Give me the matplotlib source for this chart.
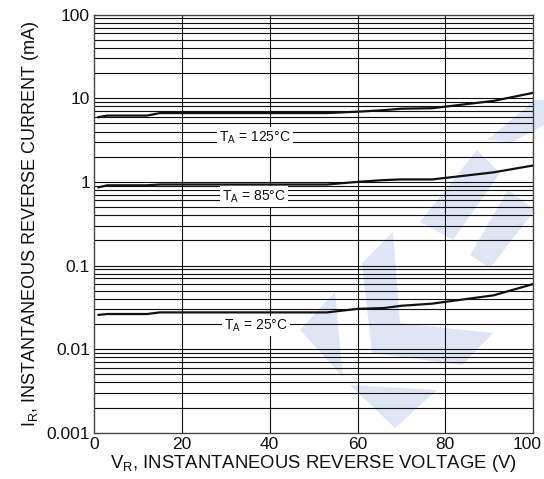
import matplotlib
matplotlib.use("Agg")
import matplotlib.pyplot as plt
from matplotlib.patches import Polygon
import matplotlib.transforms as mtransforms
import numpy as np

plt.rcParams['font.family'] = ['Liberation Sans', 'DejaVu Sans']
plt.rcParams['mathtext.fontset'] = 'custom'
plt.rcParams['mathtext.rm'] = 'Liberation Sans'
plt.rcParams['mathtext.it'] = 'Liberation Sans:italic'

# Data
voltage = [1, 3, 12, 15, 53, 60, 66, 70, 77, 91, 100]
ir_125 = [5.95, 6.2, 6.2, 6.65, 6.65, 6.9, 7.2, 7.5, 7.6, 9.3, 11.6]
ir_85 = [0.86, 0.91, 0.91, 0.93, 0.93, 1.0, 1.05, 1.07, 1.07, 1.3, 1.57]
ir_25 = [0.0257, 0.0263, 0.0263, 0.0275, 0.0275, 0.0303, 0.031, 0.033, 0.035, 0.044, 0.06]

labels = ["T$_\\mathrm{A}$ = 125°C", "T$_\\mathrm{A}$ = 85°C", "T$_\\mathrm{A}$ = 25°C"]
label_pos = [(36.6, 3.4), (36.4, 0.67), (36.8, 0.0188)]

x_ticks = [0, 20, 40, 60, 80, 100]
y_ticks = [0.001, 0.01, 0.1, 1, 10, 100]
y_ticklabels = ["0.001", "0.01", "0.1", "1", "10", "100"]

fig = plt.figure(figsize=(5.44, 4.79), dpi=100)

# Light watermark (figure pixel coordinates, y from top)
wm_color = '#dee6f5'
W, H = 544, 479
polys = [
    [(300, 330), (335, 292), (343, 377)],
    [(350, 385), (437, 390), (395, 428)],
    [(362, 263), (393, 232), (400, 323), (493, 333), (462, 365), (372, 353)],
    [(420, 222), (477, 150), (500, 173), (453, 240)],
    [(470, 255), (508, 190), (535, 210), (490, 268)],
    [(487, 140), (535, 100), (544, 100), (544, 125), (512, 142)],
]
for p in polys:
    pts = [(x / W, 1 - y / H) for x, y in p]
    fig.patches.append(Polygon(pts, closed=True, transform=fig.transFigure,
                               facecolor=wm_color, edgecolor='none', zorder=0))

ax = fig.add_axes([0.173, 0.0965, 0.807, 0.873])
ax.set_zorder(1)
ax.set_facecolor('none')
ax.set_yscale('log')
ax.set_xlim(0, 100)
ax.set_ylim(0.001, 100)

# Grid lines
for dec in [0.001, 0.01, 0.1, 1, 10]:
    for m in range(1, 10):
        v = dec * m
        if 0.001 < v < 100:
            ax.axhline(v, color='#111111', lw=0.8, zorder=1)
for xv in [20, 40, 60, 80]:
    ax.axvline(xv, color='#111111', lw=0.8, zorder=1)

for y in [ir_125, ir_85, ir_25]:
    ax.plot(voltage, y, color='#111111', lw=1.6, zorder=3)

for txt, (xx, yy) in zip(labels, label_pos):
    ax.text(xx, yy, txt, ha='center', va='center', fontsize=10, color='#111111',
            zorder=4, bbox=dict(facecolor='white', edgecolor='none', pad=1.5))

ax.set_xticks(x_ticks)
ax.set_xticklabels([str(t) for t in x_ticks])
ax.set_yticks(y_ticks)
ax.set_yticklabels(y_ticklabels)
ax.yaxis.set_minor_locator(matplotlib.ticker.NullLocator())
ax.tick_params(axis='both', length=0, labelsize=12.5, colors='#111111', pad=3)

# nudge last x tick label so it stays inside the figure
last = ax.get_xticklabels()[-1]
last.set_transform(last.get_transform() + mtransforms.ScaledTranslation(-6 / 100, 0, fig.dpi_scale_trans))

for s in ax.spines.values():
    s.set_color('#444444')
    s.set_linewidth(1.0)

ax.set_xlabel("V$_\\mathrm{R}$, INSTANTANEOUS REVERSE VOLTAGE (V)", fontsize=13.3, color='#111111', labelpad=1)
ax.set_ylabel("I$_\\mathrm{R}$, INSTANTANEOUS REVERSE CURRENT (mA)", fontsize=13, color='#111111', labelpad=4)

fig.savefig("out.png", dpi=100)
